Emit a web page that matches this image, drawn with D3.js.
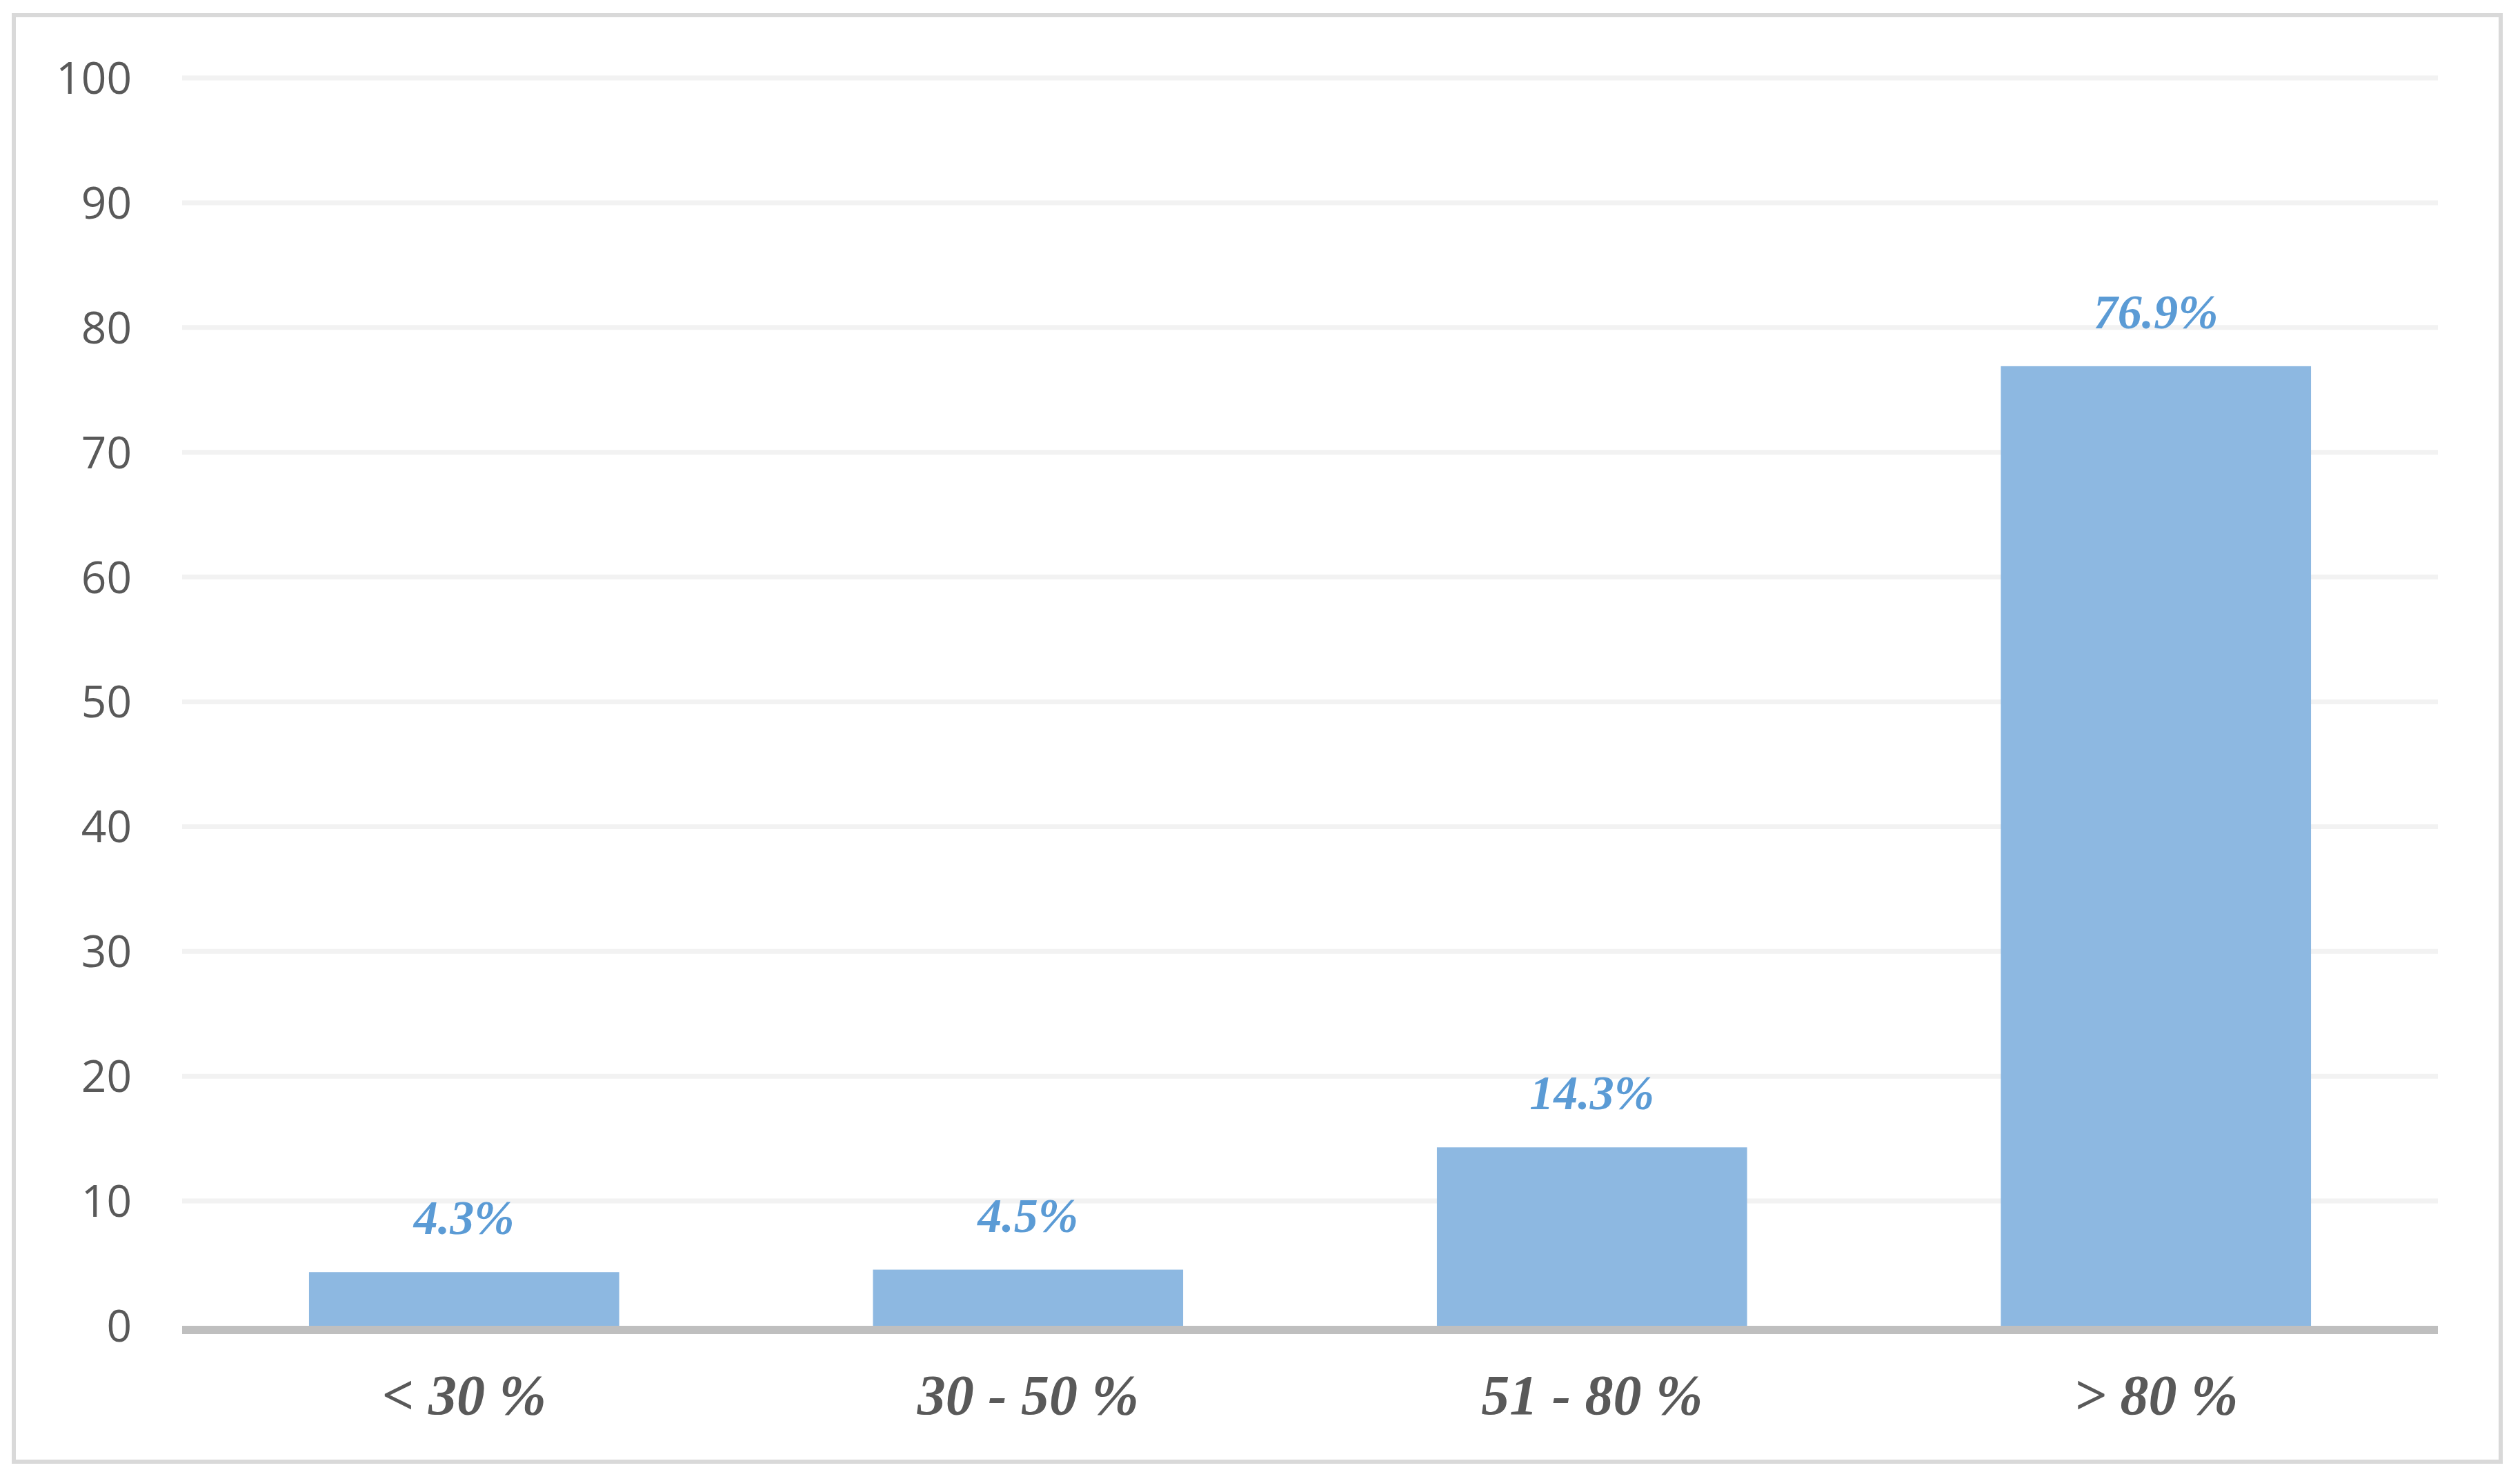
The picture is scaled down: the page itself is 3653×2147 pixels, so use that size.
<!DOCTYPE html>
<html>
<head>
<meta charset="utf-8">
<script src="https://cdn.jsdelivr.net/npm/d3@7"></script>
<style>
  html, body { margin: 0; padding: 0; background: #fff; }
</style>
</head>
<body>
<div id="chart"></div>
<script>
const categories = ['< 30 %', '30 - 50 %', '51 - 80 %', '> 80 %'];
const values = [4.3, 4.5, 14.3, 76.9];
const valueLabels = ['4.3%', '4.5%', '14.3%', '76.9%'];
const yTicks = [0, 10, 20, 30, 40, 50, 60, 70, 80, 90, 100];

const width = 3653, height = 2147;
const margin = { top: 113, right: 119, bottom: 225, left: 264 };

const svg = d3.select('#chart').append('svg')
  .attr('width', width).attr('height', height);

// outer frame
svg.append('rect')
  .attr('x', 20).attr('y', 22).attr('width', 3605).attr('height', 2097)
  .attr('fill', '#fff').attr('stroke', '#d9d9d9').attr('stroke-width', 6);

const x = d3.scaleBand().domain(categories)
  .range([margin.left, width - margin.right]).paddingInner(0.45).paddingOuter(0.225);
const y = d3.scaleLinear().domain([0, 100])
  .range([height - margin.bottom, margin.top]);

// gridlines
svg.append('g').selectAll('line').data(yTicks.filter(d => d > 0)).join('line')
  .attr('x1', margin.left).attr('x2', width - margin.right)
  .attr('y1', d => y(d)).attr('y2', d => y(d))
  .attr('stroke', '#f2f2f2').attr('stroke-width', 7);

// y axis labels
const yAxis = svg.append('g')
  .attr('transform', `translate(${margin.left - 73},0)`)
  .call(d3.axisLeft(y).tickValues(yTicks).tickSize(0).tickPadding(0));
yAxis.select('.domain').remove();
yAxis.selectAll('text')
  .attr('font-family', '"Open Sans", "Noto Sans", sans-serif')
  .attr('font-size', 64).attr('fill', '#595959').attr('dy', '0.35em');

// bars
svg.append('g').selectAll('rect').data(values).join('rect')
  .attr('x', (d, i) => x(categories[i]))
  .attr('width', x.bandwidth())
  .attr('y', d => y(d))
  .attr('height', d => y(0) - y(d))
  .attr('fill', '#8db8e1');

// value labels
svg.append('g').selectAll('text').data(values).join('text')
  .attr('x', (d, i) => x(categories[i]) + x.bandwidth() / 2)
  .attr('y', d => y(d) - 55)
  .attr('text-anchor', 'middle')
  .attr('font-family', '"Liberation Serif", "Times New Roman", serif')
  .attr('font-style', 'italic').attr('font-weight', 'bold')
  .attr('font-size', 70).attr('fill', '#5b9bd5')
  .text((d, i) => valueLabels[i]);

// x axis line
svg.append('line')
  .attr('x1', margin.left).attr('x2', width - margin.right)
  .attr('y1', y(0) + 6).attr('y2', y(0) + 6)
  .attr('stroke', '#bfbfbf').attr('stroke-width', 12);

// category labels
svg.append('g').selectAll('text').data(categories).join('text')
  .attr('x', d => x(d) + x.bandwidth() / 2)
  .attr('y', 2050)
  .attr('text-anchor', 'middle')
  .attr('font-family', '"Liberation Serif", "Times New Roman", serif')
  .attr('font-style', 'italic').attr('font-weight', 'bold')
  .attr('font-size', 82).attr('fill', '#595959')
  .text(d => d);
</script>
</body>
</html>
